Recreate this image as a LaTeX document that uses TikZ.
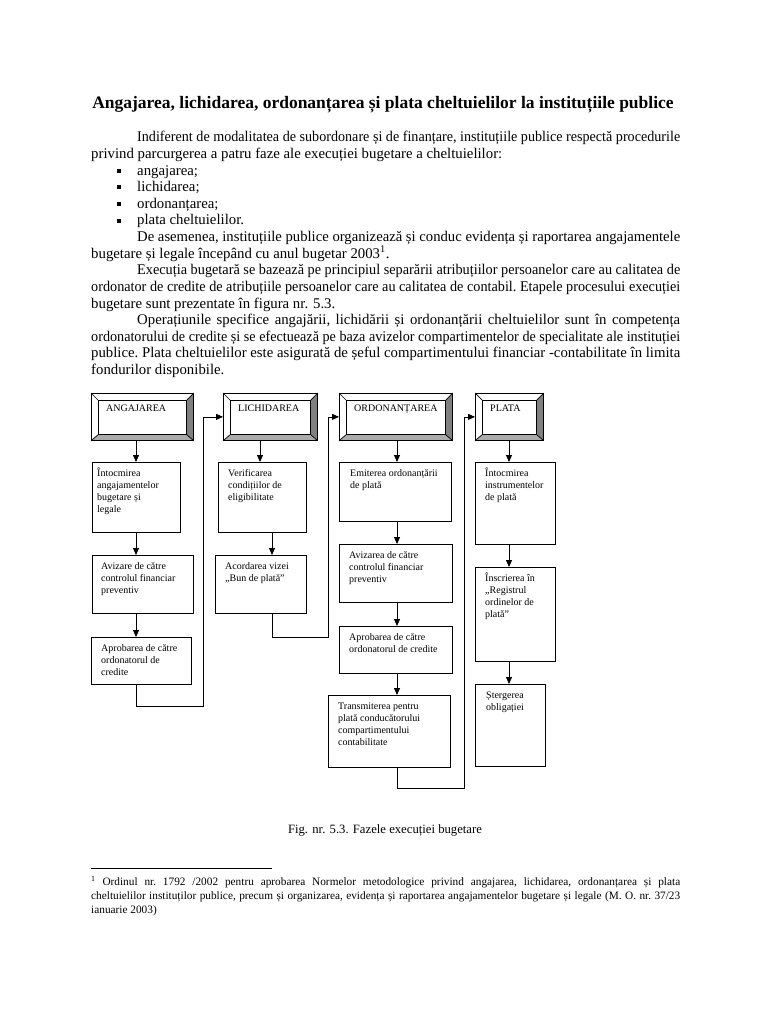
\documentclass[tikz,border=0pt]{standalone}
\usepackage{graphicx}
\usepackage{fontspec}
\setmainfont{Liberation Serif}
\usetikzlibrary{arrows.meta,calc}

\newsavebox\fitlinebox
\newcommand\fitline[2]{\sbox\fitlinebox{#2}\ifdim\wd\fitlinebox>#1\relax\resizebox{#1}{\height}{\usebox\fitlinebox}\else\makebox[#1][s]{#2}\fi}
\newcommand\mkbox[5]{\node[box, minimum width={(#4-#2)*1pt}, minimum height={(#5-#3)*1pt}] (#1) at (#2,-#3) {};}
\newcommand\btext[4]{\node[boxtext] (#1) at ($(#2.north west)+(#3,-14)$) {\parbox[t]{130pt}{\fontsize{10}{12.3}\selectfont\raggedright #4}};}
\newcommand\jline[5]{\node[bodyl] (#1) at (#2,-#3) {\frenchspacing\fitline{#4pt}{#5}};}
\newcommand\pline[4]{\node[bodyl] (#1) at (#2,-#3) {#4};}
\newcommand\fline[5]{\node[footl] (#1) at (#2,-#3) {\frenchspacing\fitline{#4pt}{#5}};}
\newcommand\bevelize[1]{%
  \fill[bevbot] (#1.south west) -- (#1.south east) -- ($(#1.south east)+(-7,6)$) -- ($(#1.south west)+(7,6)$) -- cycle;
  \fill[bevright] (#1.north east) -- (#1.south east) -- ($(#1.south east)+(-7,6)$) -- ($(#1.north east)+(-7,-7)$) -- cycle;
  \draw[ln] (#1.north west) rectangle (#1.south east);
  \draw[ln] ($(#1.north west)+(7,-7)$) rectangle ($(#1.south east)+(-7,6)$);
  \draw[ln] (#1.north west) -- ++(7,-7);
  \draw[ln] (#1.north east) -- ++(-7,-7);
  \draw[ln] (#1.south west) -- ++(7,6);
  \draw[ln] (#1.south east) -- ++(-7,6);
}
\newcommand\headlabel[3]{\node[headl] (#1) at ($(#2.north west)+(15,-18.5)$) {#3};}
\newcommand\bulletsq[2]{\fill (#1-2,-#2+2.4) rectangle (#1+2,-#2+6.4);}

\begin{document}
\begin{tikzpicture}[x=1pt,y=1pt,
  ln/.style={line width=0.7pt},
  box/.style={draw, line width=0.8pt, fill=white, inner sep=0pt, anchor=north west},
  arr/.style={line width=0.8pt, -{Triangle[length=7pt,width=6pt]}},
  boxtext/.style={anchor=base west, inner sep=0pt},
  headl/.style={anchor=base west, inner sep=0pt, font=\fontsize{10}{12}\selectfont},
  bodyl/.style={anchor=base west, inner sep=0pt, font=\fontsize{14.8}{16}\selectfont},
  footl/.style={anchor=base west, inner sep=0pt, font=\fontsize{11.3}{13}\selectfont},
  bevbot/.style={fill=black!33},
  bevright/.style={fill=black!50},
]
\useasboundingbox (0,0) rectangle (768,-1024);
\fill[white] (0,0) rectangle (768,-1024);

% ---------- title and body text ----------
\node[anchor=base, inner sep=0pt, font=\fontsize{17.5}{20}\selectfont\bfseries] (title) at (383,-109)
  {Angajarea, lichidarea, ordonanțarea și plata cheltuielilor la instituțiile publice};

\jline{l1}{137}{142}{543}{Indiferent de modalitatea de subordonare și de finanțare, instituțiile publice respectă procedurile}
\pline{l2}{91}{158.6}{privind parcurgerea a patru faze ale execuției bugetare a cheltuielilor:}
\bulletsq{119}{175.2}\pline{l3}{137}{175.2}{angajarea;}
\bulletsq{119}{191.8}\pline{l4}{137}{191.8}{lichidarea;}
\bulletsq{119}{208.4}\pline{l5}{137}{208.4}{ordonanțarea;}
\bulletsq{119}{225}\pline{l6}{137}{225}{plata cheltuielilor.}
\jline{l7}{137}{241.6}{543}{De asemenea, instituțiile publice organizează și conduc evidența și raportarea angajamentele}
\pline{l8}{91}{258.2}{bugetare și legale începând cu anul bugetar 2003\textsuperscript{1}.}
\jline{l9}{137}{274.8}{543}{Execuția bugetară se bazează pe principiul separării atribuțiilor persoanelor care au calitatea de}
\jline{l10}{91}{291.4}{589}{ordonator de credite de atribuțiile persoanelor care au calitatea de contabil. Etapele procesului execuției}
\pline{l11}{91}{308}{bugetare sunt prezentate în figura nr. 5.3.}
\jline{l12}{137}{324.6}{543}{Operațiunile specifice angajării, lichidării și ordonanțării cheltuielilor sunt în competența}
\jline{l13}{91}{341.2}{589}{ordonatorului de credite și se efectuează pe baza avizelor compartimentelor de specialitate ale instituției}
\jline{l14}{91}{357.8}{589}{publice. Plata cheltuielilor este asigurată de șeful compartimentului financiar -contabilitate în limita}
\pline{l15}{91}{374.4}{fondurilor disponibile.}

% ---------- diagram ----------
\coordinate (xA) at (136,0);
\coordinate (xB1) at (260,0);
\coordinate (xB2) at (272,0);
\coordinate (xC) at (397,0);
\coordinate (xD) at (509,0);
\coordinate (cA) at (203,-706);
\coordinate (cB) at (328,-637);
\coordinate (cC) at (464,-788);

\mkbox{HA}{91}{393}{193}{440}
\mkbox{HB}{223}{393}{317}{440}
\mkbox{HC}{339}{393}{452}{440}
\mkbox{HD}{475}{393}{543}{440}
\bevelize{HA}\bevelize{HB}\bevelize{HC}\bevelize{HD}
\headlabel{HAt}{HA}{ANGAJAREA}
\headlabel{HBt}{HB}{LICHIDAREA}
\headlabel{HCt}{HC}{ORDONANȚAREA}
\headlabel{HDt}{HD}{PLATA}

\mkbox{A1}{92}{462}{180}{532}
\mkbox{A2}{92}{555}{193}{613}
\mkbox{A3}{91}{637}{191}{684}
\mkbox{B1}{218}{462}{306}{532}
\mkbox{B2}{215}{555}{306}{613}
\mkbox{C1}{339}{462}{451}{521}
\mkbox{C2}{339}{544}{452}{602}
\mkbox{C3}{339}{626}{452}{673}
\mkbox{C4}{328}{695}{450}{767}
\mkbox{D1}{475}{462}{555}{544}
\mkbox{D2}{475}{567}{555}{661}
\mkbox{D3}{475}{684}{545}{766}

\btext{A1t}{A1}{5}{Întocmirea\\angajamentelor\\bugetare și\\legale}
\btext{A2t}{A2}{9}{Avizare de către\\controlul financiar\\preventiv}
\btext{A3t}{A3}{10}{Aprobarea de către\\ordonatorul de\\credite}
\btext{B1t}{B1}{10}{Verificarea\\condițiilor de\\eligibilitate}
\btext{B2t}{B2}{10}{Acordarea vizei\\„Bun de plată”}
\btext{C1t}{C1}{11}{Emiterea ordonanțării\\de plată}
\btext{C2t}{C2}{10}{Avizarea de către\\controlul financiar\\preventiv}
\btext{C3t}{C3}{10}{Aprobarea de către\\ordonatorul de credite}
\btext{C4t}{C4}{10}{Transmiterea pentru\\plată conducătorului\\compartimentului\\contabilitate}
\btext{D1t}{D1}{10}{Întocmirea\\instrumentelor\\de plată}
\btext{D2t}{D2}{10}{Înscrierea în\\„Registrul\\ordinelor de\\plată”}
\btext{D3t}{D3}{11}{Ștergerea\\obligației}

% vertical arrows
\draw[arr] (HA.south -| xA) -- (A1.north -| xA);
\draw[arr] (A1.south -| xA) -- (A2.north -| xA);
\draw[arr] (A2.south -| xA) -- (A3.north -| xA);
\draw[arr] (HB.south -| xB1) -- (B1.north -| xB1);
\draw[arr] (B1.south -| xB2) -- (B2.north -| xB2);
\draw[arr] (HC.south -| xC) -- (C1.north -| xC);
\draw[arr] (C1.south -| xC) -- (C2.north -| xC);
\draw[arr] (C2.south -| xC) -- (C3.north -| xC);
\draw[arr] (C3.south -| xC) -- (C4.north -| xC);
\draw[arr] (HD.south -| xD) -- (D1.north -| xD);
\draw[arr] (D1.south -| xD) -- (D2.north -| xD);
\draw[arr] (D2.south -| xD) -- (D3.north -| xD);

% loop-back connectors to next phase
\draw[arr] (A3.south -| xA) -- (xA |- cA) -- (cA) -- (cA |- HB.west) -- (HB.west);
\draw[arr] (B2.south -| xB2) -- (xB2 |- cB) -- (cB) -- (cB |- HC.west) -- (HC.west);
\draw[arr] (C4.south -| xC) -- (xC |- cC) -- (cC) -- (cC |- HD.west) -- (HD.west);

% caption
\node[anchor=base, inner sep=0pt, font=\fontsize{12.7}{15}\selectfont] (cap) at (385,-833) {Fig. nr. 5.3. Fazele execuției bugetare};

% footnote
\coordinate (fr1) at (91,-868);
\coordinate (fr2) at (272,-868);
\draw[line width=0.6pt] (fr1) -- (fr2);
\fline{f1}{91}{885}{589}{\textsuperscript{1} Ordinul nr. 1792 /2002 pentru aprobarea Normelor metodologice privind angajarea, lichidarea, ordonanțarea și plata}
\fline{f2}{91}{899.5}{589}{cheltuielilor instituților publice, precum și organizarea, evidența și raportarea angajamentelor bugetare și legale (M. O. nr. 37/23}
\node[footl] (f3) at (91,-913.5) {ianuarie 2003)};
\end{tikzpicture}
\end{document}
